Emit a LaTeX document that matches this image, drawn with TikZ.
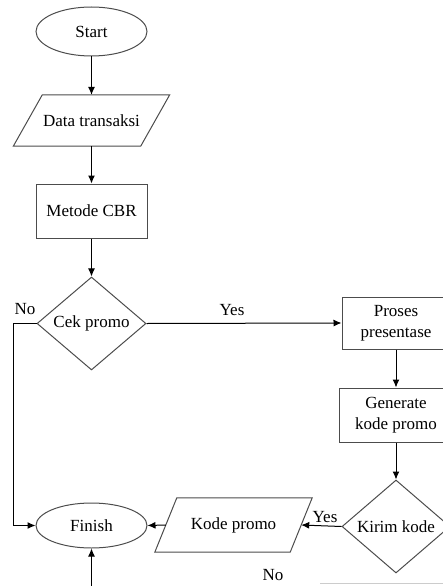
\documentclass[tikz,border=0pt]{standalone}
\usepackage{fontspec}
\setmainfont{Liberation Serif}
\usetikzlibrary{shapes.geometric,arrows.meta,calc}
\begin{document}
\begin{tikzpicture}[x=1pt,y=-1pt,
  font=\fontsize{17}{21}\selectfont,
  shapeline/.style={draw=black!70, line width=1pt},
  term/.style={shapeline, ellipse, inner sep=0pt, minimum width=111pt},
  procbox/.style={shapeline, rectangle, inner sep=0pt, align=center},
  decide/.style={shapeline, diamond, inner sep=0pt, aspect=1.16},
  iobox/.style={rectangle, inner sep=0pt},
  flow/.style={draw=black, line width=1pt, -{Latex[length=8pt,width=7pt]}},
  lbl/.style={inner sep=0pt}
]
\useasboundingbox (0,0) rectangle (443,586);
\clip (0,0) rectangle (443,586);
% nodes
\node[term, minimum height=49pt] (start) at (91.5,31.5) {Start};
\node[iobox, minimum width=156pt, minimum height=51pt] (data) at (91.5,120.5) {Data transaksi};
\draw[shapeline] ([xshift=29pt]data.north west) -- (data.north east) -- ([xshift=-29pt]data.south east) -- (data.south west) -- cycle;
\node[procbox, minimum width=111pt, minimum height=54pt] (cbr) at (91.5,211) {Metode CBR};
\node[decide, minimum width=109pt, minimum height=93pt] (cek) at (91.5,323.5) {Cek promo};
\node[procbox, minimum width=108pt, minimum height=52pt] (proses) at (396,323) {Proses\\presentase};
\node[procbox, minimum width=114pt, minimum height=54pt] (gen) at (396,415) {Generate\\kode promo};
\node[decide, minimum width=108pt, minimum height=93pt] (kirim) at (396,526.5) {Kirim kode};
\node[iobox, minimum width=157pt, minimum height=54pt] (kode) at (233.5,525) {Kode promo};
\draw[shapeline] ([xshift=22pt]kode.north west) -- (kode.north east) -- ([xshift=-22pt]kode.south east) -- (kode.south west) -- cycle;
\node[term, minimum height=45pt] (finish) at (91.5,525.5) {Finish};
\coordinate (noleft) at (13,323.5);
\coordinate (bot) at (91.5,600);
% connectors
\draw[flow] (start) -- (data);
\draw[flow] (data) -- (cbr);
\draw[flow] (cbr) -- (cek);
\draw[flow] (cek.east) -- (proses.west);
\draw[flow] (proses) -- (gen);
\draw[flow] (gen) -- (kirim);
\draw[flow] (kirim.west) -- ([xshift=-11pt]kode.east);
\draw[flow] ([xshift=11pt]kode.west) -- (finish.east);
\draw[flow] (cek.west) -- (noleft) |- (finish.west);
\draw[flow] (bot) -- (finish.south);
% labels
\node[lbl] (lno1) at (25,309) {No};
\node[lbl] (lyes1) at (232,310) {Yes};
\node[lbl] (lyes2) at (325,517) {Yes};
\node[lbl] (lno2) at (273,575) {No};
\draw[black!20, line width=1pt] (320,583.5) -- (443,583.5);
\end{tikzpicture}
\end{document}
